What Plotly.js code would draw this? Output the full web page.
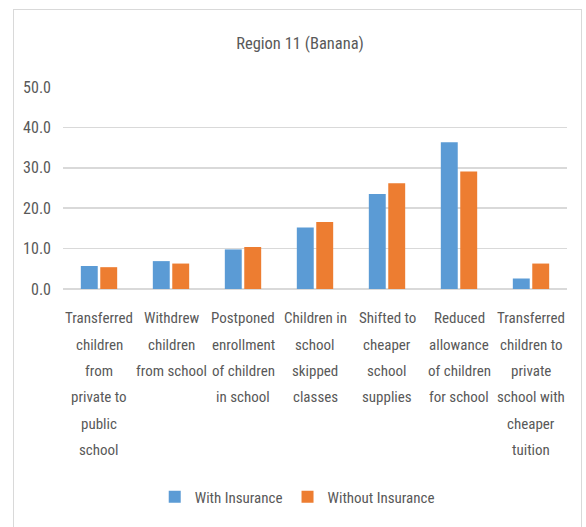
<!DOCTYPE html>
<html>
<head>
<meta charset="utf-8">
<script src="https://cdn.plot.ly/plotly-3.0.1.min.js"></script>
<style>
  html, body { margin: 0; padding: 0; background: #ffffff; }
  #wrap { position: relative; width: 586px; height: 527px; overflow: hidden; }
  #chart { position: absolute; left: 0; top: 0; width: 586px; height: 527px; }
  #frame { position: absolute; left: 13px; top: 9px; width: 569px; height: 540px;
           border: 1px solid #d9d9d9; pointer-events: none; box-sizing: border-box; }
</style>
</head>
<body>
<div id="wrap">
  <div id="chart"></div>
  <div id="frame"></div>
</div>
<script>
const chartTitle = "Region 11 (Banana)";
const categories = [
  "Transferred<br>children<br>from<br>private to<br>public<br>school",
  "Withdrew<br>children<br>from school",
  "Postponed<br>enrollment<br>of children<br>in school",
  "Children in<br>school<br>skipped<br>classes",
  "Shifted to<br>cheaper<br>school<br>supplies",
  "Reduced<br>allowance<br>of children<br>for school",
  "Transferred<br>children to<br>private<br>school with<br>cheaper<br>tuition"
];
const seriesNames = ["With Insurance", "Without Insurance"];
const withInsurance = [5.7, 6.9, 9.8, 15.2, 23.5, 36.3, 2.6];
const withoutInsurance = [5.4, 6.3, 10.4, 16.6, 26.2, 29.1, 6.3];
const yTickValues = [0, 10, 20, 30, 40, 50];

const FONT = "'Liberation Sans Narrow', 'Arial Narrow', 'Roboto Condensed', sans-serif";
const TEXT = "#595959";
const GRID = "#d9d9d9";

const xIdx = categories.map((c, i) => i);

const traces = [
  { type: "bar", name: seriesNames[0], x: xIdx, y: withInsurance,
    marker: { color: "#5b9bd5" }, hoverinfo: "y" },
  { type: "bar", name: seriesNames[1], x: xIdx, y: withoutInsurance,
    marker: { color: "#ed7d31" }, hoverinfo: "y" }
];

const annotations = [];
categories.forEach((cat, i) => {
  cat.split("<br>").forEach((line, j) => {
    annotations.push({
      x: i, xref: "x", y: 0, yref: "paper",
      yanchor: "middle", xanchor: "center",
      yshift: -(29.3 + j * 26.3),
      text: line, showarrow: false,
      font: { family: FONT, size: 15, color: TEXT }
    });
  });
});

const layout = {
  width: 586, height: 527,
  margin: { l: 63, r: 19, t: 87, b: 238 },
  paper_bgcolor: "#ffffff", plot_bgcolor: "#ffffff",
  font: { family: FONT, size: 15, color: TEXT },
  title: { text: chartTitle, x: 0.512, xanchor: "center", y: 1 - 43 / 527, yanchor: "middle",
           font: { family: FONT, size: 16.5, color: TEXT } },
  barmode: "group", bargap: 0.46, bargroupgap: 0.13,
  xaxis: { type: "linear", range: [-0.5, categories.length - 0.5],
           showticklabels: false, showgrid: false, zeroline: false, ticks: "",
           fixedrange: true },
  yaxis: { range: [0, 50], tickvals: yTickValues, tickformat: ".1f",
           showgrid: true, gridcolor: GRID, gridwidth: 1.5,
           zeroline: true, zerolinecolor: GRID, zerolinewidth: 1.5,
           showline: false, ticks: "", ticklabelstandoff: 11,
           tickfont: { family: FONT, size: 16, color: TEXT }, fixedrange: true },
  showlegend: true,
  legend: { orientation: "h", x: 0.182, xanchor: "left", y: -1.03, yanchor: "middle",
            font: { family: FONT, size: 15, color: TEXT }, itemwidth: 30,
            bgcolor: "rgba(0,0,0,0)" },
  annotations: annotations
};

Plotly.newPlot("chart", traces, layout, { displayModeBar: false, staticPlot: true });
</script>
</body>
</html>
